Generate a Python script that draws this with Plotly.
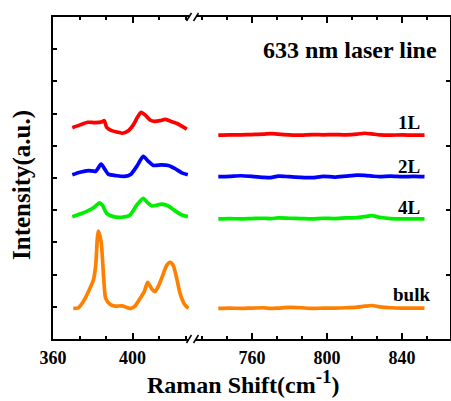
import plotly.graph_objects as go

# ---- data ----
x_left_1L = [369.7, 373.6, 377.5, 381.1, 384.8, 385.8, 387.0, 389.5, 392.9, 394.9, 397.9, 400.4, 402.6, 404.3, 406.3, 408.8, 411.0, 413.8, 416.4, 418.9, 422.2, 424.8, 427.3]
y_left_1L = [6.56, 6.65, 6.73, 6.72, 6.75, 6.78, 6.57, 6.47, 6.42, 6.39, 6.47, 6.65, 6.90, 7.04, 6.96, 6.80, 6.76, 6.78, 6.82, 6.77, 6.70, 6.61, 6.52]

x_left_2L = [369.7, 373.6, 377.8, 381.5, 384.2, 386.2, 387.8, 392.1, 395.9, 399.2, 402.1, 405.4, 407.9, 410.5, 414.7, 418.0, 421.4, 424.8, 427.8]
y_left_2L = [5.10, 5.18, 5.23, 5.21, 5.43, 5.26, 5.12, 5.07, 5.05, 5.12, 5.36, 5.67, 5.52, 5.39, 5.41, 5.39, 5.29, 5.16, 5.10]

x_left_4L = [369.7, 373.6, 377.5, 381.1, 383.3, 384.8, 387.0, 390.3, 394.5, 398.7, 402.1, 405.4, 407.6, 409.9, 414.7, 418.0, 421.4, 424.8, 427.8]
y_left_4L = [3.80, 3.88, 3.98, 4.11, 4.23, 4.16, 3.90, 3.80, 3.78, 3.85, 4.16, 4.37, 4.23, 4.13, 4.19, 4.13, 3.98, 3.85, 3.80]

x_left_bulk = [370.2, 372.7, 375.2, 377.8, 380.3, 381.5, 382.3, 382.8, 384.2, 385.3, 386.5, 388.7, 391.2, 394.6, 397.1, 399.2, 401.3, 403.6, 405.9, 407.6, 409.7, 411.3, 413.3, 415.4, 417.1, 418.9, 420.5, 422.2, 423.9, 426.1, 428.1]
y_left_bulk = [0.95, 0.97, 1.16, 1.47, 1.83, 2.30, 3.13, 3.35, 3.02, 2.09, 1.26, 1.08, 1.02, 1.03, 0.98, 0.95, 1.03, 1.24, 1.47, 1.76, 1.55, 1.47, 1.68, 2.01, 2.28, 2.38, 2.28, 1.89, 1.42, 1.08, 0.95]

x_right = [742, 748, 754, 760, 766, 770, 774, 780, 786, 792, 798, 804, 810, 816, 820, 824, 828, 834, 840, 846, 852]
y_right_1L = [6.33, 6.34, 6.34, 6.35, 6.36, 6.38, 6.36, 6.34, 6.33, 6.35, 6.34, 6.35, 6.34, 6.36, 6.39, 6.37, 6.34, 6.33, 6.34, 6.33, 6.33]
y_right_2L = [5.04, 5.05, 5.07, 5.05, 5.02, 5.01, 5.06, 5.04, 5.02, 5.01, 5.05, 5.03, 5.06, 5.09, 5.08, 5.06, 5.04, 5.06, 5.04, 5.05, 5.04]
y_right_4L = [3.73, 3.74, 3.73, 3.74, 3.75, 3.74, 3.76, 3.75, 3.74, 3.73, 3.75, 3.74, 3.76, 3.77, 3.80, 3.83, 3.78, 3.74, 3.73, 3.73, 3.73]
y_right_bulk = [0.95, 0.96, 0.95, 0.96, 0.97, 0.95, 0.96, 0.98, 0.97, 0.95, 0.96, 0.96, 0.97, 0.99, 1.02, 1.04, 1.00, 0.97, 0.96, 0.96, 0.96]

series_names = ["1L", "2L", "4L", "bulk"]
series_colors = ["#FF0000", "#0000FF", "#00EE00", "#FF8000"]
left_x = [x_left_1L, x_left_2L, x_left_4L, x_left_bulk]
left_y = [y_left_1L, y_left_2L, y_left_4L, y_left_bulk]
right_y = [y_right_1L, y_right_2L, y_right_4L, y_right_bulk]

x_left_range = [360, 428.4]
x_right_range = [730.1, 865.6]
x_left_ticks = [360, 400]
x_right_ticks = [760, 800, 840]

FONT = "Liberation Serif"
W, H = 451, 401
L, R, T, B = 53, 1, 17, 62
pw, ph = W - L - R, H - T - B

def px(x):
    return (x - L) / pw

def py(y):
    return (H - B - y) / ph

fig = go.Figure()
for name, col, xs, ys, yr in zip(series_names, series_colors, left_x, left_y, right_y):
    fig.add_trace(go.Scatter(x=xs, y=ys, mode="lines", line=dict(color=col, width=3.7, shape="spline", smoothing=0.6),
                             xaxis="x", yaxis="y", showlegend=False, hoverinfo="skip"))
    fig.add_trace(go.Scatter(x=x_right, y=yr, mode="lines", line=dict(color=col, width=3.7, shape="spline", smoothing=0.6),
                             xaxis="x2", yaxis="y2", showlegend=False, hoverinfo="skip"))

left_end = px(189)
right_start = px(196)

common_x = dict(showline=True, linecolor="black", linewidth=2, mirror="allticks", ticks="inside",
                ticklen=6, tickwidth=1.5, tickcolor="black", showgrid=False, zeroline=False,
                ticklabelstandoff=1,
                tickfont=dict(family=FONT, size=18, color="black", weight="bold"))

fig.update_layout(
    width=W, height=H, margin=dict(l=L, r=R, t=T, b=B),
    paper_bgcolor="white", plot_bgcolor="white",
    xaxis=dict(domain=[0, left_end], range=x_left_range, tickmode="array", tickvals=x_left_ticks,
               minor=dict(tick0=360, dtick=40/3, ticks="inside", ticklen=3, tickwidth=1.5, tickcolor="black"),
               anchor="y", **common_x),
    xaxis2=dict(domain=[right_start, 1], range=x_right_range, tickmode="array", tickvals=x_right_ticks,
                minor=dict(tick0=760, dtick=40/3, ticks="inside", ticklen=3, tickwidth=1.5, tickcolor="black"),
                anchor="y2", **common_x),
    yaxis=dict(range=[0, 10], anchor="x", showline=True, linecolor="black", linewidth=2,
               ticks="inside", ticklen=4, tickwidth=1.5, tickcolor="black", tickvals=[1, 2, 3, 4, 5, 6, 7, 8, 9],
               showticklabels=False, showgrid=False, zeroline=False),
    yaxis2=dict(range=[0, 10], anchor="x2", overlaying="y", side="right", showline=True, linecolor="black",
                linewidth=2, ticks="inside", ticklen=4, tickwidth=1.5, tickcolor="black", tickvals=[2, 4, 6, 8],
                showticklabels=False, showgrid=False, zeroline=False),
)

# break marks
shapes = []
for cx in (189, 196):
    for cy in (H - B, T):
        shapes.append(dict(type="line", xref="paper", yref="paper",
                           x0=px(cx - 2.5), y0=py(cy + 4), x1=px(cx + 2.5), y1=py(cy - 4),
                           line=dict(color="black", width=1.5)))
fig.update_layout(shapes=shapes)

ann = []
ann.append(dict(text="633 nm laser line", x=px(350), y=py(50), xref="paper", yref="paper", showarrow=False,
                font=dict(family=FONT, size=24, color="black", weight="bold"), xanchor="center", yanchor="middle"))
label_pos = {"1L": (409, 122), "2L": (409, 166), "4L": (409, 207), "bulk": (411, 294)}
for name in series_names:
    lx, ly = label_pos[name]
    ann.append(dict(text=name, x=px(lx), y=py(ly), xref="paper", yref="paper", showarrow=False,
                    font=dict(family=FONT, size=19, color="black", weight="bold"), xanchor="center", yanchor="middle"))
ann.append(dict(text="Raman Shift(cm<sup><span style='font-size:19px'>-1</span></sup>)", x=px(243), y=py(400),
                xref="paper", yref="paper",
                showarrow=False, font=dict(family=FONT, size=24, color="black", weight="bold"),
                xanchor="center", yanchor="bottom"))
ann.append(dict(text="Intensity(a.u.)", x=px(22), y=py(185), xref="paper", yref="paper", textangle=-90,
                showarrow=False, font=dict(family=FONT, size=25, color="black", weight="bold"),
                xanchor="center", yanchor="middle"))
fig.update_layout(annotations=ann)

fig.write_html("out.html")
